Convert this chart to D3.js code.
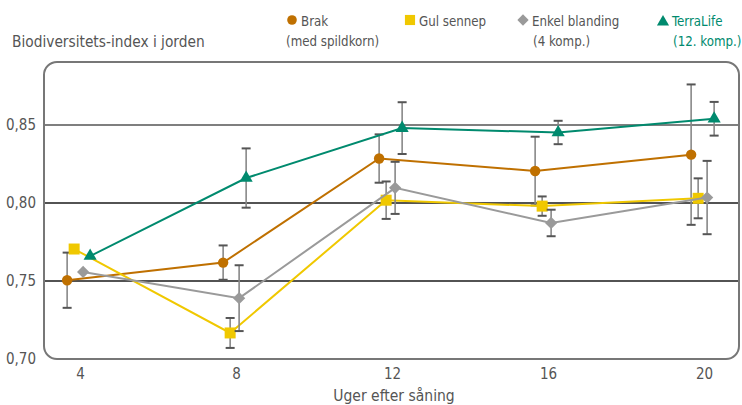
<!DOCTYPE html>
<html>
<head>
<meta charset="utf-8">
<title>Biodiversitets-index i jorden</title>
<style>
  body { margin: 0; background: #fff; }
  svg text { font-family: "Liberation Sans Narrow", "DejaVu Sans Condensed", sans-serif; }
</style>
</head>
<body>
<div id="chart"></div>
<script src="https://d3js.org/d3.v7.min.js"></script>
<script>
// uger efter såning
const weeks = [4, 8, 12, 16, 20];
const yTicks = [0.70, 0.75, 0.80, 0.85];

const brak       = [0.7505, 0.7618, 0.8285, 0.8205, 0.8310];
const brakErr    = [0.0177, 0.0110, 0.0155, 0.0220, 0.0450];
const gul        = [0.7705, 0.7167, 0.8018, 0.7980, 0.8030];
const gulErr     = [null,   0.0096, 0.0120, 0.0062, 0.0128];
const enkel      = [0.7558, 0.7390, 0.8097, 0.7872, 0.8035];
const enkelErr   = [null,   0.0211, 0.0167, 0.0085, 0.0235];
const terra      = [0.7660, 0.8160, 0.8480, 0.8452, 0.8540];
const terraErr   = [null,   0.0190, 0.0166, 0.0075, 0.0108];

const series = [
  { name: 'Brak', sub: '(med spildkorn)', values: brak, err: brakErr, color: '#bf7000', symbol: d3.symbolCircle, size: 85, rot: 0, dodge: -0.33, lx: 292 },
  { name: 'Gul sennep', sub: '', values: gul, err: gulErr, color: '#f0c800', symbol: d3.symbolSquare, size: 121, rot: 0, dodge: -0.15, lx: 410 },
  { name: 'Enkel blanding', sub: '(4 komp.)', values: enkel, err: enkelErr, color: '#9a9a9a', symbol: d3.symbolSquare, size: 75, rot: 45, dodge: 0.08, lx: 523 },
  { name: 'TerraLife', sub: '(12. komp.)', values: terra, err: terraErr, color: '#008a6e', symbol: d3.symbolTriangle, size: 75, rot: 0, dodge: 0.26, lx: 663, colorText: true }
];

const W = 742, H = 405;
const svg = d3.select('#chart').append('svg').attr('width', W).attr('height', H);

const x = d3.scaleLinear().domain([4, 20]).range([80, 704]);
const y = d3.scaleLinear().domain([0.70, 0.85]).range([359, 125]);

// ramme
svg.append('rect')
  .attr('x', 44).attr('y', 62)
  .attr('width', 695).attr('height', 297)
  .attr('rx', 13).attr('ry', 13)
  .attr('fill', 'none')
  .attr('stroke', '#777')
  .attr('stroke-width', 2);

// gitterlinjer
svg.append('g').selectAll('line')
  .data(yTicks.filter(t => t > 0.70))
  .join('line')
  .attr('x1', 45).attr('x2', 738)
  .attr('y1', d => y(d)).attr('y2', d => y(d))
  .attr('stroke', d => d === 0.85 ? '#555' : '#1a1a1a')
  .attr('stroke-width', 1.4);

// y-akse
const yAxis = svg.append('g')
  .attr('transform', 'translate(36,0)')
  .call(d3.axisLeft(y).tickValues(yTicks).tickSize(0).tickPadding(0)
    .tickFormat(d => d3.format('.2f')(d).replace('.', ',')));
yAxis.select('.domain').remove();
yAxis.selectAll('text').attr('fill', '#555').style('font-size', '15px');

// x-akse
const xAxis = svg.append('g')
  .attr('transform', 'translate(0,368)')
  .call(d3.axisBottom(x).tickValues(weeks).tickSize(0).tickPadding(0));
xAxis.select('.domain').remove();
xAxis.selectAll('text').attr('fill', '#555').style('font-size', '15px');

svg.append('text')
  .attr('x', 394).attr('y', 401)
  .attr('text-anchor', 'middle')
  .attr('fill', '#555')
  .style('font-size', '15.5px')
  .text('Uger efter såning');

svg.append('text')
  .attr('x', 12).attr('y', 47)
  .attr('fill', '#555')
  .style('font-size', '15.3px')
  .text('Biodiversitets-index i jorden');

// serier
series.forEach(s => {
  const pts = weeks.map((w, i) => ({ w, v: s.values[i], e: s.err[i] }));
  const px = d => x(d.w + s.dodge);
  const g = svg.append('g');

  g.append('path')
    .datum(pts)
    .attr('fill', 'none')
    .attr('stroke', s.color)
    .attr('stroke-width', 2)
    .attr('d', d3.line().x(px).y(d => y(d.v)));

  const eb = g.selectAll('g.err')
    .data(pts.filter(d => d.e != null))
    .join('g').attr('class', 'err');
  eb.append('line')
    .attr('x1', px).attr('x2', px)
    .attr('y1', d => y(d.v + d.e)).attr('y2', d => y(d.v - d.e))
    .attr('stroke', '#888').attr('stroke-width', 1.6);
  [1, -1].forEach(sign => {
    eb.append('line')
      .attr('x1', d => px(d) - 4.5).attr('x2', d => px(d) + 4.5)
      .attr('y1', d => y(d.v + sign * d.e)).attr('y2', d => y(d.v + sign * d.e))
      .attr('stroke', '#555').attr('stroke-width', 2);
  });

  g.selectAll('path.mark')
    .data(pts)
    .join('path').attr('class', 'mark')
    .attr('transform', d => `translate(${px(d)},${y(d.v)}) rotate(${s.rot})`)
    .attr('d', d3.symbol().type(s.symbol).size(s.size))
    .attr('fill', s.color);
});

// legende
const leg = svg.append('g');
series.forEach(s => {
  leg.append('path')
    .attr('transform', `translate(${s.lx},${s.symbol === d3.symbolTriangle ? 22 : 20}) rotate(${s.rot})`)
    .attr('d', d3.symbol().type(s.symbol).size(s.size * 0.85))
    .attr('fill', s.color);
  const tc = s.colorText ? s.color : '#555';
  leg.append('text')
    .attr('x', s.lx + 9).attr('y', 26)
    .attr('fill', tc)
    .style('font-size', '13.2px')
    .text(s.name);
  if (s.sub) {
    leg.append('text')
      .attr('x', s.name === 'Brak' ? s.lx - 6 : s.lx + 10).attr('y', 46)
      .attr('fill', tc)
      .style('font-size', '13.2px')
      .text(s.sub);
  }
});
</script>
</body>
</html>
